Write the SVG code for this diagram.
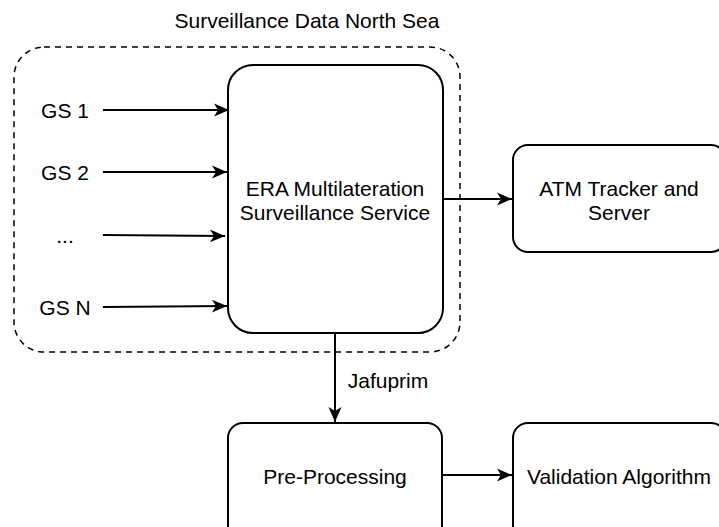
<svg xmlns="http://www.w3.org/2000/svg" width="719" height="527" viewBox="0 0 719 527">
<style>
.box{fill:#fff;stroke:#000;stroke-width:2}
.t{font-family:"Liberation Sans",Arial,sans-serif;font-size:21px;fill:#000;text-anchor:middle;dominant-baseline:central}
.c{fill:none;stroke:#000;stroke-width:2}
</style>
<defs>
<marker id="ah" markerWidth="16" markerHeight="16" viewBox="0 0 16 16" refX="15" refY="8" orient="auto" markerUnits="userSpaceOnUse">
<path d="M0,1.5 L15,8 L0,14.5 L4,8 Z" fill="#000"/>
</marker>
</defs>
<rect width="719" height="527" fill="#fff"/>
<g id="container">
<rect x="14" y="47" width="446" height="305" rx="30" ry="30" fill="none" stroke="#000" stroke-width="1.5" stroke-dasharray="6,5"/>
<text class="t" x="307" y="20">Surveillance Data North Sea</text>
</g>
<g id="era">
<rect class="box" x="228" y="65" width="215" height="268" rx="25" ry="25"/>
<text class="t" x="335" y="188">ERA Multilateration</text>
<text class="t" x="335" y="212">Surveillance Service</text>
</g>
<g id="atm">
<rect class="box" x="513" y="145" width="213" height="107" rx="15" ry="15"/>
<text class="t" x="619" y="188">ATM Tracker and</text>
<text class="t" x="619" y="212">Server</text>
</g>
<g id="pre">
<rect class="box" x="228" y="423" width="214" height="120" rx="15" ry="15"/>
<text class="t" x="335" y="476">Pre-Processing</text>
</g>
<g id="val">
<rect class="box" x="513" y="423" width="213" height="120" rx="15" ry="15"/>
<text class="t" x="619" y="476">Validation Algorithm</text>
</g>
<g id="gs1"><text class="t" x="65" y="110">GS 1</text></g>
<g id="gs2"><text class="t" x="65" y="172">GS 2</text></g>
<g id="gsdots"><text class="t" x="65" y="235">...</text></g>
<g id="gsn"><text class="t" x="65" y="307">GS N</text></g>
<g id="connectors">
<path class="c" d="M103,110 L229,110" marker-end="url(#ah)"/>
<path class="c" d="M103,172 L227,172" marker-end="url(#ah)"/>
<path class="c" d="M103,235 L225,236" marker-end="url(#ah)"/>
<path class="c" d="M103,307 L227,306" marker-end="url(#ah)"/>
<path class="c" d="M443,199 L512,199" marker-end="url(#ah)"/>
<path class="c" d="M335,333 L335,422" marker-end="url(#ah)"/>
<path class="c" d="M442,475 L512,475" marker-end="url(#ah)"/>
<text class="t" x="388" y="380">Jafuprim</text>
</g>
</svg>
